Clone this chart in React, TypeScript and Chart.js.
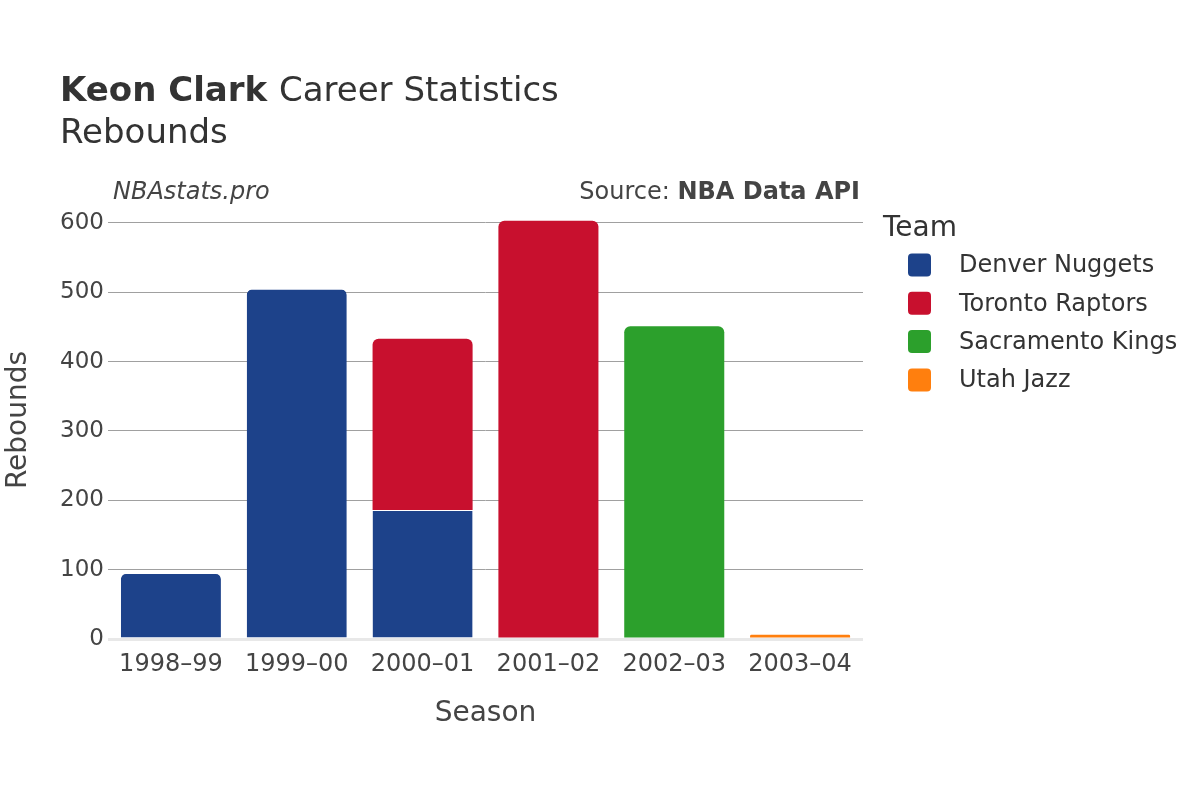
import React, { useEffect, useRef } from "react";
import { Chart, registerables } from "chart.js";

Chart.register(...registerables);

const seasons = ["1998–99", "1999–00", "2000–01", "2001–02", "2002–03", "2003–04"];
const teams = ["Denver Nuggets", "Toronto Raptors", "Sacramento Kings", "Utah Jazz"];
const teamColors = ["#1d428a", "#c8102e", "#2ca02c", "#ff7f0e"];
const denver = [95, 505, 186, null, null, null];
const toronto = [null, null, 247, 603, null, null];
const sacramento = [null, null, null, null, 451, null];
const utah = [null, null, null, null, null, 6];
const yTicks = [0, 100, 200, 300, 400, 500, 600];

const FONT = "'DejaVu Sans', Verdana, sans-serif";

const decorPlugin = {
  id: "decor",
  afterDraw(chart: any) {
    const ctx = chart.ctx;
    const area = chart.chartArea;
    ctx.save();
    ctx.fillStyle = "#333";
    ctx.textBaseline = "alphabetic";
    ctx.textAlign = "left";
    ctx.font = `bold 34px ${FONT}`;
    ctx.fillText("Keon Clark", 60, 101);
    const w = ctx.measureText("Keon Clark ").width;
    ctx.font = `34px ${FONT}`;
    ctx.fillText("Career Statistics", 60 + w, 101);
    ctx.fillText("Rebounds", 60, 143);

    ctx.fillStyle = "#444";
    ctx.font = `italic 24px ${FONT}`;
    ctx.fillText("NBAstats.pro", 113, 199);

    ctx.textAlign = "right";
    ctx.font = `bold 24px ${FONT}`;
    const bw = ctx.measureText("NBA Data API").width;
    ctx.fillText("NBA Data API", 860, 199);
    ctx.font = `24px ${FONT}`;
    ctx.fillText("Source: ", 860 - bw, 199);

    // axis titles
    ctx.fillStyle = "#444";
    ctx.textAlign = "center";
    ctx.font = `28px ${FONT}`;
    ctx.fillText("Season", (area.left + area.right) / 2, 721);
    ctx.save();
    ctx.translate(26, 420);
    ctx.rotate(-Math.PI / 2);
    ctx.fillText("Rebounds", 0, 0);
    ctx.restore();

    // legend
    ctx.textAlign = "left";
    ctx.fillStyle = "#333";
    ctx.font = `28px ${FONT}`;
    ctx.fillText("Team", 883, 236);
    ctx.font = `24px ${FONT}`;
    chart.data.datasets.forEach((ds: any, i: number) => {
      const cy = 265 + i * 38.3;
      ctx.fillStyle = ds.backgroundColor;
      ctx.beginPath();
      (ctx as any).roundRect(908, cy - 11.5, 23, 23, 4);
      ctx.fill();
      ctx.fillStyle = "#333";
      ctx.textBaseline = "middle";
      ctx.fillText(ds.label, 959, cy + 1);
    });
    ctx.restore();
  },
};

function makeDataset(label: string, data: (number | null)[], color: string, topLine: boolean) {
  return {
    label,
    data,
    backgroundColor: color,
    borderColor: "#ffffff",
    borderWidth: topLine ? { top: 1, left: 0, right: 0, bottom: 0 } : 0,
    borderSkipped: "start",
    borderRadius: 6,
    barPercentage: 0.795,
    categoryPercentage: 1,
  };
}

export default function App() {
  const ref = useRef<HTMLCanvasElement | null>(null);
  useEffect(() => {
    document.body.style.margin = "0";
    const canvas = ref.current!;
    const chart = new Chart(canvas, {
      type: "bar",
      data: {
        labels: seasons,
        datasets: [
          makeDataset(teams[0], denver, teamColors[0], true),
          makeDataset(teams[1], toronto, teamColors[1], false),
          makeDataset(teams[2], sacramento, teamColors[2], false),
          makeDataset(teams[3], utah, teamColors[3], false),
        ] as any,
      },
      options: {
        responsive: false,
        animation: false,
        layout: { padding: { left: 0, right: 337, top: 209, bottom: 121 } },
        plugins: { legend: { display: false }, tooltip: { enabled: false }, title: { display: false } },
        scales: {
          x: {
            stacked: true,
            grid: { display: false },
            border: { display: false },
            ticks: { color: "#444", font: { family: FONT, size: 24 }, padding: 3 },
            afterFit(scale: any) {
              scale.height = 40;
            },
          },
          y: {
            stacked: true,
            min: 0,
            max: 620,
            border: { display: false },
            grid: {
              color: (c: any) => (c.tick && c.tick.value === 0 ? "#e8e8e8" : "#a0a0a0"),
              lineWidth: (c: any) => (c.tick && c.tick.value === 0 ? 3 : 1),
              drawTicks: false,
            },
            ticks: { color: "#444", font: { family: FONT, size: 23 }, padding: 4 },
            afterBuildTicks(scale: any) {
              scale.ticks = yTicks.map((v) => ({ value: v }));
            },
            afterFit(scale: any) {
              scale.width = 108;
            },
          },
        },
      },
      plugins: [decorPlugin],
    });
    return () => chart.destroy();
  }, []);
  return <canvas ref={ref} width={1200} height={800} style={{ display: "block" }} />;
}
